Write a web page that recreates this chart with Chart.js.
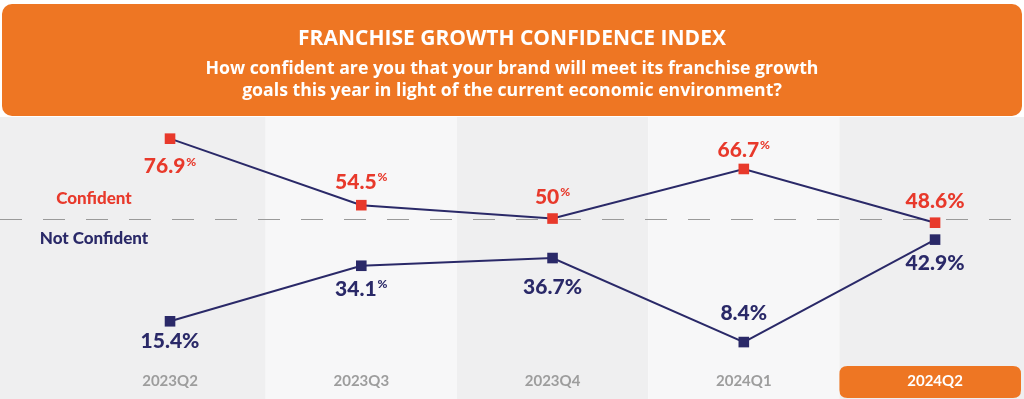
<!DOCTYPE html>
<html><head><meta charset="utf-8">
<script src="https://cdn.jsdelivr.net/npm/chart.js@4.4.1/dist/chart.umd.min.js"></script>
<style>
html,body{margin:0;padding:0;background:#fff;}
#wrap{position:relative;width:1024px;height:399px;overflow:hidden;font-family:Lato,"Open Sans",sans-serif;}
#c{position:absolute;left:0;top:0;}
#hdr{position:absolute;left:2px;top:4px;width:1020px;height:112px;background:#ee7623;border-radius:10px;color:#fff;text-align:center;font-family:"Open Sans",Lato,sans-serif;}
#t1{position:absolute;left:0;right:0;top:20px;font-size:21px;font-weight:700;line-height:26px;}
#t2{position:absolute;left:0;right:0;top:52px;font-size:17.7px;font-weight:700;line-height:22px;}
.side{position:absolute;font-weight:900;font-size:17px;line-height:20px;text-align:center;}
</style></head><body>
<div id="wrap">
<canvas id="c" width="1024" height="399"></canvas>
<div id="hdr"><div id="t1">FRANCHISE GROWTH CONFIDENCE INDEX</div><div id="t2">How confident are you that your brand will meet its franchise growth<br>goals this year in light of the current economic environment?</div></div>
<div class="side" style="left:38px;width:112px;top:188px;color:#e8392b">Confident</div>
<div class="side" style="left:24px;width:140px;top:228px;color:#2a2968">Not Confident</div>
</div>
<script>
const categories = ['2023Q2','2023Q3','2023Q4','2024Q1','2024Q2'];
const confident = [76.9, 54.5, 50, 66.7, 48.6];
const notConfident = [15.4, 34.1, 36.7, 8.4, 42.9];
const seriesNames = ['Confident', 'Not Confident'];
const dividerValue = 50;

const RED = '#e8392b', NAVY = '#2a2968', ORANGE = '#ee7623';
const seriesValues = [confident, notConfident];
// label placement/style per dataset & point: [side, offset px, small superscript %]
const labelStyle = [
  [['below',28,true],['above',23,true],['above',21,true],['above',19,true],['above',21,false]],
  [['below',20,false],['below',23,true],['below',29,false],['above',29,false],['below',24,false]]
];

function rr(ctx,x,y,w,h,r){ctx.beginPath();ctx.moveTo(x+r,y);ctx.lineTo(x+w-r,y);ctx.quadraticCurveTo(x+w,y,x+w,y+r);ctx.lineTo(x+w,y+h-r);ctx.quadraticCurveTo(x+w,y+h,x+w-r,y+h);ctx.lineTo(x+r,y+h);ctx.quadraticCurveTo(x,y+h,x,y+h-r);ctx.lineTo(x,y+r);ctx.quadraticCurveTo(x,y,x+r,y);ctx.closePath();}

const bgPlugin = {id:'bg', beforeDraw(chart){
  const {ctx, chartArea:a, scales:{x}} = chart;
  const n = categories.length;
  ctx.save();
  for(let i=0;i<n;i++){
    const l = i===0 ? 0 : x.getPixelForValue(i-0.5);
    const r = i===n-1 ? chart.width : x.getPixelForValue(i+0.5);
    ctx.fillStyle = i%2===0 ? '#efeff0' : '#f7f7f8';
    ctx.fillRect(l, a.top, r-l, chart.height-a.top);
  }
  const bl = x.getPixelForValue(n-1.5);
  ctx.fillStyle = ORANGE;
  rr(ctx, bl, a.bottom-1, chart.width-3-bl, chart.height-a.bottom, 8);
  ctx.fill();
  ctx.restore();
}};

const dashPlugin = {id:'dash', beforeDatasetsDraw(chart){
  const {ctx, scales:{y}} = chart;
  const py = Math.round(y.getPixelForValue(dividerValue))+0.5;
  ctx.save();
  ctx.strokeStyle = '#9a9a9a'; ctx.lineWidth = 1; ctx.setLineDash([22,21]);
  ctx.beginPath(); ctx.moveTo(0,py); ctx.lineTo(chart.width,py); ctx.stroke();
  ctx.restore();
}};

const lblPlugin = {id:'lbl', afterDatasetsDraw(chart){
  const ctx = chart.ctx;
  const big = '900 21px Lato', small = '900 12px Lato';
  chart.data.datasets.forEach((ds,di)=>{
    const meta = chart.getDatasetMeta(di);
    meta.data.forEach((pt,i)=>{
      const [side,off,sm] = labelStyle[di][i];
      const num = String(seriesValues[di][i]);
      ctx.save();
      ctx.font = big; const wNum = ctx.measureText(num).width;
      ctx.font = sm ? small : big; const wPct = ctx.measureText('%').width;
      const cy = side==='above' ? pt.y-off : pt.y+off;
      const x0 = pt.x - (wNum+wPct+(sm?1:0))/2;
      ctx.fillStyle = ds.pointBackgroundColor;
      ctx.textBaseline = 'middle'; ctx.textAlign = 'left';
      ctx.font = big; ctx.fillText(num, x0, cy);
      if(sm){ ctx.font = small; ctx.fillText('%', x0+wNum+1, cy-5); }
      else { ctx.fillText('%', x0+wNum, cy); }
      ctx.restore();
    });
  });
}};

new Chart(document.getElementById('c'), {
  type:'line',
  data:{datasets:[
    {label:seriesNames[0], data:confident.map((v,i)=>({x:i,y:v})), borderColor:NAVY, borderWidth:2,
     pointStyle:'rect', pointRadius:7.5, pointHoverRadius:7.5, pointBackgroundColor:RED, pointBorderWidth:0, tension:0},
    {label:seriesNames[1], data:notConfident.map((v,i)=>({x:i,y:v})), borderColor:NAVY, borderWidth:2,
     pointStyle:'rect', pointRadius:7.5, pointHoverRadius:7.5, pointBackgroundColor:NAVY, pointBorderWidth:0, tension:0}
  ]},
  options:{
    responsive:false, animation:false, events:[],
    layout:{autoPadding:false, padding:{top:117,bottom:4,left:0,right:0}},
    plugins:{legend:{display:false}, tooltip:{enabled:false}},
    scales:{
      x:{type:'linear', min:-0.889, max:4.465, grid:{display:false, drawTicks:false}, border:{display:false},
         afterBuildTicks(s){ s.ticks = categories.map((_,i)=>({value:i})); },
         ticks:{padding:5, autoSkip:false, maxRotation:0,
           color:(c)=> c.index===categories.length-1 ? '#ffffff' : '#9d9d9d',
           font:{family:'Lato', size:15, weight:'bold'},
           callback:(v)=> categories[v] ?? ''}},
      y:{display:false, min:0, max:84.2}
    }
  },
  plugins:[bgPlugin, dashPlugin, lblPlugin]
});
</script>
</body></html>
